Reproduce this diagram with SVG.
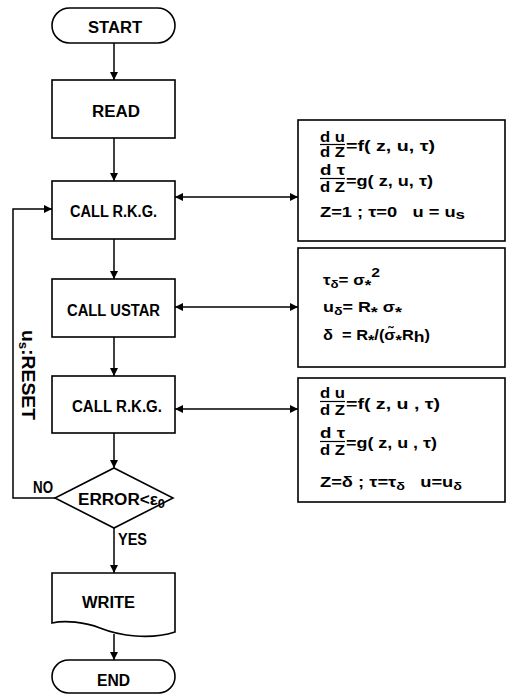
<svg xmlns="http://www.w3.org/2000/svg" width="507" height="695" viewBox="0 0 507 695">
<defs>
<marker id="arr" viewBox="0 0 10 10" refX="10" refY="5" markerWidth="8" markerHeight="8" markerUnits="userSpaceOnUse" orient="auto-start-reverse">
<path d="M0,0 L10,5 L0,10 z" fill="#000"/>
</marker>
<style>
.s{fill:#fff;stroke:#000;stroke-width:1.6}
.c{fill:none;stroke:#000;stroke-width:1.5}
.a{marker-end:url(#arr)}
.b{marker-start:url(#arr);marker-end:url(#arr)}
.t{font-family:"Liberation Sans","DejaVu Sans",sans-serif;font-weight:bold;font-size:16px;fill:#000}
.m{font-family:"Liberation Sans","DejaVu Sans",sans-serif;font-weight:bold;font-size:14px;fill:#000}
.sub{font-size:11px}
.st{font-size:14px}
.f{stroke:#000;stroke-width:1.2}
</style>
</defs>
<rect width="507" height="695" fill="#fff"/>

<g id="connectors">
<path class="c a" d="M114,43 V80"/>
<path class="c a" d="M114,138 V181"/>
<path class="c a" d="M114,239 V279"/>
<path class="c a" d="M114,337 V376"/>
<path class="c a" d="M114,433 V468"/>
<path class="c a" d="M114,528 V573"/>
<path class="c a" d="M114,634 V660"/>
<path class="c a" d="M55,498 H13 V209 H52"/>
<path class="c b" d="M175,197 H298"/>
<path class="c b" d="M175,307 H298"/>
<path class="c b" d="M175,409 H298"/>
<text class="t" transform="translate(22,375) rotate(90)" text-anchor="middle" textLength="90" lengthAdjust="spacingAndGlyphs" style="font-size:19px">u<tspan dy="3" style="font-size:13px">s</tspan><tspan dy="-3">:RESET</tspan></text>
<text class="t" x="33" y="493" textLength="20" lengthAdjust="spacingAndGlyphs">NO</text>
<text class="t" x="118" y="545" textLength="29" lengthAdjust="spacingAndGlyphs">YES</text>
</g>

<g id="start">
<rect class="s" x="52" y="8" width="123" height="35" rx="17.5"/>
<text class="t" x="88" y="33" textLength="54" lengthAdjust="spacingAndGlyphs">START</text>
</g>

<g id="read">
<rect class="s" x="52" y="80" width="123" height="58"/>
<text class="t" x="92" y="117" textLength="48" lengthAdjust="spacingAndGlyphs">READ</text>
</g>

<g id="rkg1">
<rect class="s" x="52" y="181" width="123" height="58"/>
<text class="t" x="70" y="217" textLength="87" lengthAdjust="spacingAndGlyphs">CALL R.K.G.</text>
</g>

<g id="ustar">
<rect class="s" x="52" y="279" width="123" height="58"/>
<text class="t" x="67" y="316" textLength="93" lengthAdjust="spacingAndGlyphs">CALL USTAR</text>
</g>

<g id="rkg2">
<rect class="s" x="52" y="376" width="123" height="57"/>
<text class="t" x="72" y="412" textLength="90" lengthAdjust="spacingAndGlyphs">CALL R.K.G.</text>
</g>

<g id="decision">
<polygon class="s" points="114,468 173,498 114,528 55,498"/>
<text class="t" x="78" y="505" textLength="87" lengthAdjust="spacingAndGlyphs">ERROR&lt;ε<tspan dy="3" style="font-size:12px">0</tspan></text>
</g>

<g id="write">
<path class="s" d="M52,573 H175 V632 C150,640 120,636 100,628 C85,622 65,620 52,623 Z"/>
<text class="t" x="82" y="608" textLength="53" lengthAdjust="spacingAndGlyphs">WRITE</text>
</g>

<g id="end">
<rect class="s" x="52" y="660" width="123" height="33" rx="16.5"/>
<text class="t" x="97" y="686" textLength="33" lengthAdjust="spacingAndGlyphs">END</text>
</g>

<g id="box1">
<rect class="s" x="298" y="120" width="207" height="121"/>
<text class="m" x="320" y="142" textLength="25" lengthAdjust="spacingAndGlyphs">d u</text>
<line class="f" x1="320" y1="144.5" x2="345" y2="144.5"/>
<text class="m" x="320" y="157" textLength="25" lengthAdjust="spacingAndGlyphs">d Z</text>
<text class="m" x="346" y="151" textLength="89" lengthAdjust="spacingAndGlyphs">=f( z, u, τ)</text>
<text class="m" x="320" y="175" textLength="25" lengthAdjust="spacingAndGlyphs">d τ</text>
<line class="f" x1="320" y1="178.5" x2="345" y2="178.5"/>
<text class="m" x="320" y="192" textLength="25" lengthAdjust="spacingAndGlyphs">d Z</text>
<text class="m" x="346" y="186" textLength="87" lengthAdjust="spacingAndGlyphs">=g( z, u, τ)</text>
<text class="m" x="320" y="217" textLength="145" lengthAdjust="spacingAndGlyphs">Z=1 ; τ=0 &#160; u = u<tspan dy="2" style="font-size:13px">s</tspan></text>
</g>

<g id="box2">
<rect class="s" x="298" y="248" width="207" height="119"/>
<text class="m" x="323" y="285" textLength="57" lengthAdjust="spacingAndGlyphs">τ<tspan class="sub" dy="3">δ</tspan><tspan dy="-3">= σ</tspan><tspan class="st" dy="5">*</tspan><tspan dy="-13" style="font-size:13px">2</tspan></text>
<text class="m" x="323" y="312" textLength="79" lengthAdjust="spacingAndGlyphs">u<tspan class="sub" dy="3">δ</tspan><tspan dy="-3">= R</tspan><tspan class="st" dy="5">*</tspan><tspan dy="-5"> σ</tspan><tspan class="st" dy="5">*</tspan></text>
<text class="m" x="323" y="340" textLength="107" lengthAdjust="spacingAndGlyphs">δ &#160;= R<tspan class="st" dy="5">*</tspan><tspan dy="-5">/(σ̃</tspan><tspan class="st" dy="5">*</tspan><tspan dy="-5">R</tspan><tspan dy="2" style="font-size:15px">h</tspan><tspan dy="-2">)</tspan></text>
</g>

<g id="box3">
<rect class="s" x="298" y="378" width="207" height="124"/>
<text class="m" x="320" y="398" textLength="25" lengthAdjust="spacingAndGlyphs">d u</text>
<line class="f" x1="320" y1="401.5" x2="345" y2="401.5"/>
<text class="m" x="320" y="415" textLength="25" lengthAdjust="spacingAndGlyphs">d Z</text>
<text class="m" x="346" y="409" textLength="94" lengthAdjust="spacingAndGlyphs">=f( z, u , τ)</text>
<text class="m" x="320" y="438" textLength="25" lengthAdjust="spacingAndGlyphs">d τ</text>
<line class="f" x1="320" y1="441.5" x2="345" y2="441.5"/>
<text class="m" x="320" y="455" textLength="25" lengthAdjust="spacingAndGlyphs">d Z</text>
<text class="m" x="346" y="448" textLength="91" lengthAdjust="spacingAndGlyphs">=g( z, u , τ)</text>
<text class="m" x="320" y="487" textLength="142" lengthAdjust="spacingAndGlyphs">Z=δ ; τ=τ<tspan class="sub" dy="3">δ</tspan><tspan dy="-3"> &#160; u=u</tspan><tspan class="sub" dy="3">δ</tspan></text>
</g>
</svg>
